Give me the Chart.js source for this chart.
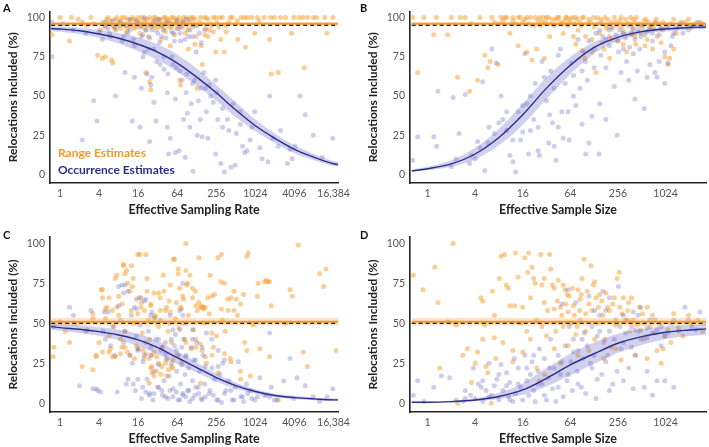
<!DOCTYPE html>
<html>
<head>
<meta charset="utf-8">
<script src="https://cdn.jsdelivr.net/npm/chart.js@4.4.1/dist/chart.umd.min.js"></script>
<style>
  html, body { margin: 0; padding: 0; background: #ffffff; }
  #wrap { position: relative; width: 709px; height: 447px; overflow: hidden; background: #fff; }
  canvas { position: absolute; }
</style>
</head>
<body>
<div id="wrap">
  <canvas id="cA" width="354" height="218" style="left:0px;top:0px;"></canvas>
  <canvas id="cB" width="349" height="218" style="left:360px;top:0px;"></canvas>
  <canvas id="cC" width="354" height="222" style="left:0px;top:225px;"></canvas>
  <canvas id="cD" width="349" height="222" style="left:360px;top:225px;"></canvas>
</div>
<script>
// ---------------- tick labels & domains ----------------
const xTicksRate = [1, 4, 16, 64, 256, 1024, 4096, 16384];
const xTickLabelsRate = ['1', '4', '16', '64', '256', '1024', '4096', '16,384'];
const xTicksSize = [1, 4, 16, 64, 256, 1024];
const xTickLabelsSize = ['1', '4', '16', '64', '256', '1024'];
const yTicks = [0, 25, 50, 75, 100];
const xDomainRate = [0.73, 19350];
const xDomainSize = [0.63, 3327];
const yDomain = [-5.5, 104];

// ---------------- reference lines ----------------
const nominalAB = 95, rangeMeanAB = 96, rangeBandAB = [94.8, 97.2];
const nominalCD = 50, rangeMeanCD = 51, rangeBandCD = [48.7, 53.3];

// ---------------- fitted curves ----------------
const curveRateX = [0.73, 1, 2, 4, 8, 16, 32, 64, 128, 256, 512, 1024, 2048, 4096, 8192, 16384, 19350];
const curveA = [93, 92.7, 91.6, 89.5, 86.8, 83, 78, 71, 62, 52, 41, 31, 23, 16, 11, 6.8, 6.3];
const curveAUpper = [94.5, 94.3, 93.5, 92, 90, 87.5, 83, 76.5, 67.5, 57, 46, 35, 26, 18.5, 13, 8.5, 8];
const curveALower = [91.5, 91, 89.5, 87, 83.5, 78.5, 73, 65.5, 56.5, 47, 36.5, 27.5, 20, 13.5, 9, 5.3, 4.8];
const curveC = [48, 47.3, 46.3, 44.8, 42.7, 39.6, 34.8, 28.5, 22.3, 16, 11, 7.3, 4.8, 3.5, 2.7, 2.1, 2.1];
const curveCUpper = [50, 49.5, 48.8, 47.5, 46, 43.5, 39, 32.5, 25.5, 18.5, 13, 8.7, 6, 4.6, 3.6, 3, 3];
const curveCLower = [46, 45.3, 44, 42.2, 39.5, 35.7, 30.6, 24.5, 19.2, 13.5, 9, 5.9, 3.8, 2.6, 1.9, 1.4, 1.3];

const curveSizeX = [0.63, 1, 2, 4, 8, 16, 32, 64, 128, 256, 512, 1024, 2048, 3327];
const curveB = [2.2, 3.6, 6.7, 13, 23.5, 38, 55, 69.6, 81, 87.4, 91, 92.7, 93.7, 94];
const curveBUpper = [3, 4.8, 9, 17, 29, 45, 62, 75, 84.5, 89.5, 92.5, 94, 95, 95.3];
const curveBLower = [1.6, 2.6, 4.8, 9.5, 18.5, 31.5, 48, 64, 77, 85, 89.5, 91.3, 92.3, 92.7];
const curveD = [0.6, 0.6, 1, 2, 4.2, 8.3, 15.6, 24, 31, 37.5, 41.7, 44.4, 45.8, 46.5];
const curveDUpper = [0.8, 0.9, 1.6, 3, 6.5, 12.5, 22, 31, 38, 43.5, 46.5, 48.2, 49, 49.5];
const curveDLower = [0.4, 0.4, 0.6, 1.2, 2.7, 5.3, 10.5, 17.5, 24.5, 31.5, 36.5, 40, 42, 42.8];

// ---------------- scatter points [x, y] ----------------
const rangeA = [[0.75,89],[1,100],[1.4,85],[1.5,100],[1.9,99],[2.2,97],[2.6,95],[3,100],[3.3,96],[3.8,76],[4.2,92],[4.5,74],[5,75],[5.2,99],[5.6,96],[6.2,73],[6.5,71],[6.8,94],[7.5,100],[8,97],[8.5,93],[9,100],[10,96],[10.5,91],[11,99],[12,95],[13,100],[14,93],[15,98],[16,96],[17,90],[18,100],[19,94],[20,97],[21,65],[22,99],[23,88],[24,59],[25,54],[26,96],[28,100],[30,92],[32,97],[34,99],[36,86],[38,95],[40,100],[42,91],[45,98],[48,94],[50,82],[52,100],[55,96],[58,89],[62,99],[66,93],[70,60],[72,57],[75,97],[80,100],[85,90],[90,95],[95,80],[100,99],[108,94],[115,100],[120,83],[125,88],[130,55],[140,97],[150,82],[155,70],[165,100],[175,93],[190,99],[210,96],[230,100],[260,97],[290,100],[340,78],[360,95],[420,100],[540,98],[620,100],[780,100],[1000,90],[1170,98],[1400,100],[1700,86],[1750,100],[1800,64],[2300,65],[2500,100],[3700,90],[4000,100],[4800,100],[5800,68],[6500,100],[9000,100],[13000,90],[16000,100],
  [4.5,97],[5,94],[5.5,100],[6,98],[6.5,95],[7,99],[7.2,92],[8.5,98],[9.5,95],[10,100],[11,93],[12,98],[13,95],[14,99],[15,94],[16,100],[17,97],[18,95],[20,99],[21,92],[22,96],[24,100],[25,94],[27,98],[29,95],[30,100],[33,94],[35,99],[37,96],[40,93],[42,100],[44,96],[46,99],[50,97],[53,94],[56,100],[60,96],[64,98],[68,100],[72,94],[78,98],[82,96],[88,100],[92,92],[98,97],[105,100],[112,96],[118,99],[130,95],[145,100],[160,96],[180,100],[200,92],[220,95],[250,100],[280,94],[320,100],[400,97],[450,100],[700,100],[900,100],[1100,100],[2000,100],[3000,100],[5500,100],[8000,100],[12000,100],[170,89],[190,88],[230,91],[300,86],[550,86],[250,78],[720,81],[362,91]];
const occA = [[0.75,75],[0.75,97],[1.1,96],[1.6,92],[2.2,22],[2.5,90],[3.3,47],[3.7,34],[4,91],[4.5,86],[5,97],[5.5,93],[6,88],[6.5,98],[7.2,50],[8,95],[9,85],[10,65],[11,90],[12,99],[13,34],[14,82],[16,96],[17,30],[18,88],[19,75],[21,92],[22,64],[23,80],[24,21],[25,57],[26,62],[27,95],[28,46],[30,34],[31,72],[33,99],[35,70],[37,88],[40,67],[42,97],[45,30],[46,64],[47,13],[50,23],[53,75],[56,90],[60,14],[62,68],[64,93],[68,15],[72,85],[76,60],[80,97],[85,11],[88,52],[92,39],[96,88],[100,30],[105,45],[112,2],[118,60],[125,78],[135,47],[145,35],[155,24],[165,65],[175,55],[190,23],[210,50],[230,46],[250,60],[270,35],[300,7],[320,42],[340,1.5],[380,35],[430,4.6],[470,45],[520,26],[600,40],[650,18],[700,14],[760,15],[850,22],[1000,40],[1300,10],[1600,8],[1700,50],[1900,23],[2300,18],[3200,7],[3500,16],[3800,10],[4200,18],[5000,50],[6000,38],[8000,25],[11000,11],[16000,23],
  [4.8,95],[5.8,90],[7,93],[8.5,97],[9.5,88],[10.5,95],[12,92],[13.5,86],[15,98],[17,94],[19,89],[20,100],[22,95],[24,87],[26,92],[29,98],[32,90],[34,84],[36,95],[39,92],[43,87],[48,96],[52,91],[58,85],[63,98],[70,90],[75,94],[84,86],[90,99],[100,92],[110,88],[120,95],[140,90],[150,84],[170,92],[20,78],[28,80],[40,75],[55,70],[70,66],[90,64],[110,58],[150,55],[200,57],[260,52],[180,40],[320,30],[400,28],[600,32],[900,30],[1200,17],[2500,28],[14,62],[18,55],[45,52],[60,48],[80,35],[130,25],[250,13],[500,6]];

const rangeB = [[0.65,100],[0.75,65],[0.9,100],[1.2,89],[1.3,100],[1.8,89],[2,100],[2.4,62],[2.6,100],[3,100],[3.4,53],[3.6,96],[4.3,60],[4.6,100],[5.3,76],[5.8,68],[6.2,72],[6.5,100],[7,97],[7.8,70],[8.5,100],[9,98],[10,100],[11,90],[12,100],[13,96],[14,82],[15,100],[17,99],[18,78],[20,100],[21,73],[22,95],[24,80],[26,100],[28,97],[30,74],[32,100],[35,88],[38,99],[40,95],[44,100],[48,97],[52,90],[56,100],[60,95],[64,99],[70,88],[75,100],[80,92],[85,97],[90,100],[98,74],[100,88],[105,96],[110,99],[120,86],[128,94],[135,65],[140,100],[150,90],[160,97],[170,80],[180,95],[190,99],[200,88],[220,93],[240,97],[260,85],[280,100],[300,91],[330,78],[350,96],[380,89],[400,99],[430,83],[460,95],[500,90],[550,98],[600,86],[650,94],[700,80],[750,97],[800,88],[900,93],[1000,75],[1100,70],[1150,74],[1200,96],[1400,90],[1600,97],[2000,99],[2400,96],[2800,97],
  [8,96],[9.5,100],[12,98],[14,100],[16,97],[18,100],[19,96],[23,100],[25,98],[27,95],[29,100],[31,97],[34,100],[37,96],[42,99],[46,100],[50,96],[54,98],[58,100],[62,97],[68,100],[72,96],[78,99],[88,95],[95,100],[115,97],[125,100],[145,96],[155,99],[175,100],[185,93],[210,97],[230,100],[250,95],[270,98],[290,94],[320,99],[340,96],[370,100],[390,93],[420,97],[440,100],[480,96],[520,94],[580,99],[620,97],[680,95],[720,93],[780,99],[850,96],[950,97],[1050,94],[1300,99],[1500,95],[1800,97],[2200,94],[3000,96],[160,84],[210,86],[300,83],[420,88],[560,82],[900,84],[1300,80],[75,83],[90,79],[120,78],[200,74]];
const occB = [[0.65,9],[0.75,24],[1.2,24],[1.3,18],[1.35,53],[2.1,49],[2.3,10],[2.5,26],[3,51],[3.4,7],[3.6,12],[4.3,21],[4.6,17],[5,59],[5.3,2.5],[5.8,20],[6.5,80],[7,26],[7.4,71],[8,33],[8.5,50],[9,35],[10,28],[11,12],[12,8],[13,1.5],[14,40],[15,22],[16,27],[17,77],[18,45],[19,13],[20,50],[22,35],[23,58],[25,30],[26,12],[28,72],[30,62],[32,47],[34,20],[36,66],[38,33],[40,55],[42,9],[45,76],[48,80],[52,23],[55,58],[60,40],[62,22],[66,71],[70,63],[75,44],[80,86],[85,55],[90,32],[95,78],[100,13],[105,60],[110,85],[120,37],[128,68],[135,90],[148,13],[155,76],[165,88],[180,68],[200,92],[230,56],[250,85],[280,65],[300,90],[330,72],[360,81],[400,93],[450,66],[500,88],[550,42],[600,91],[650,70],[700,85],[800,62],[900,93],[1000,78],[1100,71],[1300,90],[1600,96],[2000,92],[2600,97],
  [150,92],[180,86],[210,94],[240,89],[270,92],[320,87],[350,95],[380,90],[420,86],[460,92],[520,95],[560,89],[640,93],[700,90],[760,96],[850,89],[950,92],[1100,95],[1250,88],[1400,93],[1700,90],[2200,95],[2900,94],[200,82],[260,78],[300,80],[400,77],[480,80],[350,60],[600,62],[750,65],[1000,58],[420,48],[850,72],[1200,82],[128,80],[100,72],[90,66],[70,50],[50,40],[45,30],[40,18],[35,38],[25,15],[20,28],[16,44],[12,22],[10,40],[6,30],[4,10],[2,5],[150,45],[180,35],[250,25],[110,20]];

const rangeC = [[0.78,29],[0.8,35],[1,51],[1.2,45],[1.4,38],[1.7,50],[2.2,23],[2.6,46],[3.2,53],[3.6,30],[4,38],[4.3,71],[4.5,66],[5,53],[5.3,60],[5.7,42],[6,34],[6.4,29],[6.8,48],[7.1,78],[7.5,80],[8,55],[8.5,40],[9,62],[9.5,87],[10,45],[10.6,83],[11,32],[11.9,70],[12.5,58],[13.4,78],[14,50],[15,36],[15.8,93],[16.5,66],[17.8,63],[18.5,44],[19.5,28],[21,93],[22,70],[23,52],[24,40],[25,61],[26,23],[28,32],[29,55],[31,20],[33,48],[35,66],[36,18],[38,35],[40,70],[42,58],[44,27],[46,45],[48,64],[50,74],[52,38],[55,22],[58,90],[60,53],[63,30],[66,84],[68,47],[70,72],[72,60],[75,26],[78,50],[80,65],[84,40],[87,100],[90,74],[95,55],[100,80],[105,34],[110,66],[115,46],[122,70],[130,58],[138,91],[145,37],[152,61],[160,60],[170,50],[180,25],[190,66],[200,56],[220,30],[240,68],[270,91],[300,76],[320,52],[350,45],[390,58],[420,28],[480,70],[520,65],[600,20],[700,38],[760,92],[800,94],[950,49],[1100,67],[1200,34],[1500,77],[1600,76],[1700,29],[1800,61],[2300,2],[3000,50],[3500,71],[3800,67],[4700,99],[5600,32],[6500,23],[10000,81],[11500,73],[12500,84],[18000,33],
  [4.5,71],[5.7,66],[8,67],[12.6,86],[9.5,86],[17,93],[10,81],[11,75],[13,73],[22,78],[28,69],[33,69],[39,80],[56,90],[66,81],[87,83],[92,75],[110,72],[146,60],[163,59],[218,67],[205,80],[307,93],[342,75],[430,66],[608,62],[675,68],[1135,75],[1430,76],[1690,76],
  [3.6,29],[3.2,21],[4.5,32],[5.7,32],[7.1,29],[8.5,31],[9,35],[10,35],[11.9,30],[14,28],[15.8,34],[18.8,33],[21,31],[23.6,28],[26,30],[31,29],[33,25],[37,23],[42,25],[47,21],[52,23],[44,17],[55,27],[25,22],[26,19],[23.6,12.5],[28,17],[87,38],[123,35],[155,33],[173,29],[273,19],[146,12.5],[123,40],[218,44],[258,42],[230,35],[342,31],[430,26],[608,15],[760,33],[855,17],
  [3.2,56],[5,59],[6.4,58],[7.5,60],[15.8,56],[17.7,60],[20,58],[25,62],[29.6,54],[35,58],[44,60],[49.5,57],[62,63],[74,59],[78,67],[123,61],[137,63],[173,60],[307,59],[383,65],[483,58],[541,55]];
const occC = [[0.8,48],[1.4,60],[1.6,55],[2,11],[2.5,45],[3,58],[3.6,9],[4.2,7],[4.6,45],[5,40],[5.5,57],[6,36],[6.5,48],[7,30],[7.6,7],[8,61],[8.5,52],[9,74],[9.5,38],[10,45],[10.5,12],[11,70],[12,30],[12.5,55],[13,25],[14,60],[14.5,8],[15,42],[16,34],[17,49],[18,3],[19,26],[20,64],[21,38],[22,15],[23,45],[24,6],[25,30],[26,57],[27,2],[28,20],[30,40],[32,10],[33,24],[35,52],[36,33],[38,5],[40,14],[42,38],[44,28],[46,3],[48,17],[50,55],[52,25],[55,9],[58,36],[60,43],[63,20],[66,2],[68,30],[70,58],[72,12],[75,24],[78,5],[80,40],[84,18],[88,30],[92,8],[96,22],[100,1],[105,35],[110,14],[115,27],[120,5],[128,38],[135,10],[140,20],[150,3],[160,30],[170,12],[180,44],[200,6],[220,22],[240,15],[260,2],[290,18],[320,25],[360,8],[400,14],[450,2],[500,10],[560,26],[650,4],[750,12],[850,8],[1000,2],[1200,16],[1500,5],[1700,44],[1800,10],[2200,2],[2800,14],[3500,28],[4000,3],[4500,16],[6000,11],[8000,4],[10000,1],[13000,4],[16000,9],
  [8,73],[10,74],[9.5,69],[15,65],[17.7,66],[21,65],[15,59],[25,55],[28,53],[49.5,50],[55,46],[70,46],[78,55],[87,50],[110,46],[78,75],[4.8,57],
  [3.2,9],[3.8,8],[11.2,15],[13.4,12],[15.8,15],[18.8,10],[21,7],[23.6,5],[28,6],[33,10],[37,8],[42,4],[49.5,8],[55,4],[62,7],[70,2],[78,6],[87,4],[97,8],[110,3],[123,10],[137,6],[155,2],[173,4],[205,8],[230,5],[273,2],[307,0.5],[342,6],[430,8],[483,2],[608,4],[675,1],[780,6],[900,3],[1100,4],[1400,5],[1700,4],[2000,2],
  [15.8,33],[20,30],[25,35],[33,40],[37,35],[42,31],[52,40],[62,33],[75,35],[87,29],[110,40],[123,27],[155,35],[173,23],[218,40],[273,33],[342,27],[273,23]];

const rangeD = [[0.66,80],[0.88,71],[1.24,85],[1.36,63],[1.43,22],[1.8,51],[2.1,100],[2.3,49],[2.4,0],[2.8,30],[3.2,34],[3.6,13],[4.3,32],[4.7,66],[5,64],[5.3,49],[5.5,23],[5.8,19],[6.4,0],[6.6,70],[7,41],[7.3,28],[8.1,78],[8.5,92],[9.4,93],[9.9,74],[10.5,72],[11,61],[12,33],[12.6,61],[13,94],[14,79],[15,50],[16,32],[17,91],[18.5,82],[19,94],[21,85],[22,78],[23,75],[24,22],[26,14],[27,93],[28,74],[30,63],[32,42],[35,93],[36,84],[38,74],[40,59],[42,45],[45,77],[48,25],[50,55],[52,74],[55,71],[58,68],[60,57],[65,50],[70,61],[75,43],[80,71],[85,65],[90,78],[95,90],[100,56],[110,62],[117,86],[125,74],[130,76],[140,50],[150,68],[160,64],[175,40],[190,60],[210,35],[230,66],[250,78],[265,82],[290,56],[320,52],[350,63],[380,66],[420,30],[450,49],[500,46],[550,40],[600,60],[700,55],[800,33],[900,25],[1000,42],[1200,38],[1500,47],[2000,55],[2600,52],[3000,45],
  [16,60],[18,45],[20,66],[24,52],[28,48],[30,78],[33,58],[40,72],[44,64],[48,60],[52,48],[56,62],[62,67],[68,72],[72,55],[78,48],[84,58],[88,68],[100,45],[105,70],[120,58],[135,66],[145,60],[165,55],[180,69],[200,58],[220,62],[240,49],[270,60],[300,66],[340,58],[360,45],[400,52],[480,60],[520,56],[650,48],[750,44],[850,50],[1100,46],[1300,56],[1700,42],[2200,50],[60,36],[80,30],[110,33],[130,40],[170,28],[240,34],[280,27],[600,28],[950,34],[40,34],[30,18],[20,40],[12,26],[9,38],[7,55],[5,40],[4,25]];
const occD = [[0.66,5],[0.75,14],[0.9,1],[1.2,10],[1.5,17],[1.9,16],[2.3,2],[2.8,1],[3,8],[3.5,5],[3.8,22],[4,3],[4.4,12],[4.8,10],[5,1],[5.5,8],[6,25],[6.5,5],[7,11],[7.5,15],[8,2],[8.5,24],[9,8],[10,19],[10.5,4],[11,13],[12,1],[12.5,28],[13,6],[14,22],[15,10],[16,2],[17,30],[18,14],[19,5],[20,18],[21,26],[22,8],[23,1],[25,20],[26,34],[28,12],[30,28],[32,2],[34,16],[36,40],[38,9],[40,22],[42,1],[45,30],[48,18],[50,62],[52,4],[55,36],[58,14],[60,71],[62,48],[65,26],[68,8],[70,40],[75,63],[78,20],[80,33],[85,52],[88,10],[92,28],[96,44],[100,6],[105,36],[110,67],[115,25],[120,48],[128,30],[135,3],[140,42],[150,55],[160,18],[170,38],[180,58],[190,30],[200,45],[220,12],[240,52],[260,73],[280,34],[300,55],[320,44],[350,22],[380,48],[400,57],[430,30],[470,45],[500,60],[550,10],[600,41],[650,52],[700,5],[800,46],[900,36],[1000,14],[1100,44],[1300,52],[1800,60],[2200,48],[2800,57],
  [130,58],[150,45],[165,70],[200,66],[230,40],[270,48],[300,38],[340,52],[380,35],[420,46],[460,55],[500,40],[540,50],[600,47],[700,44],[750,52],[900,48],[1000,42],[1200,50],[1500,45],[2000,52],[2500,46],[50,26],[60,18],[70,32],[80,12],[90,40],[120,22],[140,15],[180,26],[200,8],[250,20],[300,14],[400,9],[600,20],[800,14],[1300,10],[30,5],[25,12],[35,22],[45,10],[22,30],[18,22],[14,12],[11,2],[10,11],[8,18],[6,4],[5,14],[3,3]];

// ---------------- styling ----------------
const NAVY = '#2b2d8e';
const BAND = 'rgba(112,112,200,0.32)';
const LAV_PT = 'rgba(112,112,196,0.34)';
const OR_PT = 'rgba(245,158,44,0.5)';
const ORANGE = '#f39a2a';
const OR_BAND = 'rgba(246,166,70,0.30)';
const AXIS = '#222222';
const TICKC = '#555555';
const TRANSP = 'rgba(0,0,0,0)';

const toXY = (xs, ys) => xs.map((x, i) => ({x: x, y: ys[i]}));
const pairs = arr => arr.map(p => ({x: p[0], y: p[1]}));

const textPlugin = {
  id: 'panelText',
  afterDraw(chart, args, opts) {
    const ctx = chart.ctx;
    ctx.save();
    (opts.items || []).forEach(it => {
      ctx.font = it.font;
      ctx.fillStyle = it.color;
      ctx.textAlign = 'left';
      ctx.textBaseline = 'middle';
      ctx.fillText(it.text, it.x, it.y);
    });
    ctx.restore();
  }
};

function hline(dom, y, extra) {
  return Object.assign({data: [{x: dom[0], y: y}, {x: dom[1], y: y}], pointRadius: 0, fill: false}, extra);
}

function makePanel(id, o) {
  const datasets = [
    {data: toXY(o.cx, o.cy), borderColor: NAVY, borderWidth: 1.4, pointRadius: 0, cubicInterpolationMode: 'monotone', fill: false},
    {data: toXY(o.cx, o.cu), borderColor: TRANSP, borderWidth: 0, pointRadius: 0, cubicInterpolationMode: 'monotone', fill: false},
    {data: toXY(o.cx, o.cl), borderColor: TRANSP, borderWidth: 0, pointRadius: 0, cubicInterpolationMode: 'monotone', fill: '-1', backgroundColor: BAND},
    hline(o.xDom, o.nominal, {borderColor: AXIS, borderWidth: 1.3, borderDash: [4, 3]}),
    hline(o.xDom, o.rMean, {borderColor: ORANGE, borderWidth: 2}),
    hline(o.xDom, o.rBand[1], {borderColor: TRANSP, borderWidth: 0}),
    hline(o.xDom, o.rBand[0], {borderColor: TRANSP, borderWidth: 0, fill: '-1', backgroundColor: OR_BAND}),
    {data: pairs(o.occ), showLine: false, pointRadius: 2.5, pointBackgroundColor: LAV_PT, pointBorderWidth: 0, pointHoverRadius: 0},
    {data: pairs(o.range), showLine: false, pointRadius: 2.5, pointBackgroundColor: OR_PT, pointBorderWidth: 0, pointHoverRadius: 0}
  ];
  return new Chart(document.getElementById(id), {
    type: 'line',
    data: {datasets: datasets},
    plugins: [textPlugin],
    options: {
      responsive: false,
      animation: false,
      devicePixelRatio: 1,
      events: [],
      layout: {padding: {top: o.padTop, left: 0, right: o.padRight, bottom: 0}},
      plugins: {
        legend: {display: false},
        tooltip: {enabled: false},
        panelText: {items: o.texts}
      },
      scales: {
        x: {
          type: 'logarithmic',
          min: o.xDom[0], max: o.xDom[1],
          afterBuildTicks: s => { s.ticks = o.xTicks.map(v => ({value: v})); },
          afterFit: s => { s.height = 35; },
          grid: {display: false, drawTicks: false, tickLength: 0},
          border: {display: true, color: AXIS, width: 1.6},
          ticks: {
            autoSkip: false, maxRotation: 0, minRotation: 0, padding: 4,
            color: TICKC, font: {family: 'Lato', size: 10.5},
            callback: (v, i) => o.xLabels[i]
          },
          title: {display: true, text: o.xTitle, color: '#222', font: {family: 'Lato', size: 12.5, weight: 'bold'}, padding: {top: 0, bottom: 1}}
        },
        y: {
          type: 'linear',
          min: yDomain[0], max: yDomain[1],
          afterBuildTicks: s => { s.ticks = yTicks.map(v => ({value: v})); },
          afterFit: s => { s.width = 50; },
          grid: {display: false, drawTicks: false, tickLength: 0},
          border: {display: true, color: AXIS, width: 1.6},
          ticks: {
            padding: 5, color: TICKC, font: {family: 'Lato', size: 10.5},
            callback: v => String(v)
          },
          title: {display: true, text: 'Relocations Included (%)', color: '#222', font: {family: 'Lato', size: 12, weight: 'bold'}, padding: {top: 5.8, bottom: 0}}
        }
      }
    }
  });
}

const LETTER = 'bold 11px Lato';
const LEG = 'bold 12px Lato';

makePanel('cA', {
  cx: curveRateX, cy: curveA, cu: curveAUpper, cl: curveALower,
  nominal: nominalAB, rMean: rangeMeanAB, rBand: rangeBandAB,
  occ: occA, range: rangeA, xDom: xDomainRate, xTicks: xTicksRate, xLabels: xTickLabelsRate,
  xTitle: 'Effective Sampling Rate', padTop: 9, padRight: 6,
  texts: [
    {text: 'A', x: 3, y: 8, color: '#111', font: LETTER},
    {text: 'Range Estimates', x: 58, y: 153, color: '#f39a2a', font: LEG},
    {text: 'Occurrence Estimates', x: 58, y: 170.5, color: '#2b2d8e', font: LEG}
  ]
});
makePanel('cB', {
  cx: curveSizeX, cy: curveB, cu: curveBUpper, cl: curveBLower,
  nominal: nominalAB, rMean: rangeMeanAB, rBand: rangeBandAB,
  occ: occB, range: rangeB, xDom: xDomainSize, xTicks: xTicksSize, xLabels: xTickLabelsSize,
  xTitle: 'Effective Sample Size', padTop: 9, padRight: 3,
  texts: [{text: 'B', x: 0, y: 8, color: '#111', font: LETTER}]
});
makePanel('cC', {
  cx: curveRateX, cy: curveC, cu: curveCUpper, cl: curveCLower,
  nominal: nominalCD, rMean: rangeMeanCD, rBand: rangeBandCD,
  occ: occC, range: rangeC, xDom: xDomainRate, xTicks: xTicksRate, xLabels: xTickLabelsRate,
  xTitle: 'Effective Sampling Rate', padTop: 12, padRight: 6,
  texts: [{text: 'C', x: 3, y: 10, color: '#111', font: LETTER}]
});
makePanel('cD', {
  cx: curveSizeX, cy: curveD, cu: curveDUpper, cl: curveDLower,
  nominal: nominalCD, rMean: rangeMeanCD, rBand: rangeBandCD,
  occ: occD, range: rangeD, xDom: xDomainSize, xTicks: xTicksSize, xLabels: xTickLabelsSize,
  xTitle: 'Effective Sample Size', padTop: 12, padRight: 3,
  texts: [{text: 'D', x: 0, y: 10, color: '#111', font: LETTER}]
});
</script>
</body>
</html>
